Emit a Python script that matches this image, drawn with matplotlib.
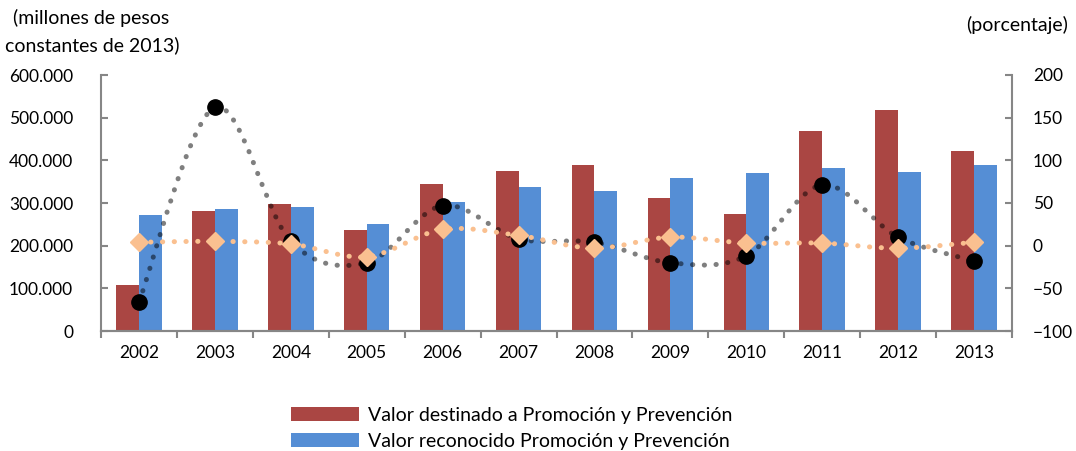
import matplotlib
matplotlib.use("Agg")
import matplotlib.pyplot as plt
from matplotlib.path import Path
from matplotlib.patches import PathPatch, Patch
from matplotlib.ticker import FuncFormatter, FixedLocator
import numpy as np

plt.rcParams['font.family'] = ['Lato', 'DejaVu Sans']

years = ["2002", "2003", "2004", "2005", "2006", "2007", "2008",
         "2009", "2010", "2011", "2012", "2013"]
destinado = [108000, 281000, 298000, 237000, 345000, 375000, 389000,
             312000, 275000, 469000, 517000, 422000]
reconocido = [272000, 286000, 291000, 251000, 302000, 337000, 327000,
              358000, 370000, 381000, 372000, 388000]
crec_destinado = [-66, 162, 5, -20, 47, 8, 4, -20, -12, 71, 10, -18]
crec_reconocido = [4, 5, 2, -13, 19, 12, -3, 10, 3, 3, -3, 4]

RED = "#AA4643"
BLUE = "#558ED5"
ORANGE = "#FAC090"
GRAY = "#868686"

fig = plt.figure(figsize=(10.76, 4.51), dpi=100)
ax = fig.add_axes([101/1076, 1-331/451, (1012-101)/1076, (331-75)/451])
ax2 = ax.twinx()

x = np.arange(len(years))
w = 0.3
ax.bar(x - w/2, destinado, width=w, color=RED, edgecolor="none")
ax.bar(x + w/2, reconocido, width=w, color=BLUE, edgecolor="none")
ax.set_xlim(-0.5, len(years) - 0.5)
ax.set_ylim(0, 600000)
ax.yaxis.set_major_locator(FixedLocator(np.arange(0, 600001, 100000)))
ax.yaxis.set_major_formatter(FuncFormatter(lambda v, p: f"{int(v):,}".replace(",", ".")))
ax.set_xticks(x)
ax.set_xticklabels(years)
ax.set_xticks(np.arange(-0.5, len(years)), minor=True)
ax.tick_params(axis='x', which='major', length=0, pad=10, labelsize=12.5)
ax.tick_params(axis='x', which='minor', length=5, width=1.5, color=GRAY, direction='out')
ax.tick_params(axis='y', length=5, width=1.5, color=GRAY, direction='in', pad=20, labelsize=12.5)

ax2.set_ylim(-100, 200)
ax2.yaxis.set_major_locator(FixedLocator(np.arange(-100, 201, 50)))
ax2.tick_params(axis='y', length=5, width=1.5, color=GRAY, direction='in', pad=15, labelsize=12.5)

for a in (ax, ax2):
    a.spines["top"].set_visible(False)
    for s in ("left", "right", "bottom"):
        a.spines[s].set_color(GRAY)
        a.spines[s].set_linewidth(1.5)
ax.spines["right"].set_visible(False)
ax2.spines["left"].set_visible(False)


def smooth_path(xs, ys):
    pts = np.column_stack([xs, ys]).astype(float)
    n = len(pts)
    verts = [pts[0]]
    codes = [Path.MOVETO]
    for i in range(n - 1):
        p0 = pts[i - 1] if i > 0 else pts[i]
        p1 = pts[i]
        p2 = pts[i + 1]
        p3 = pts[i + 2] if i + 2 < n else pts[i + 1]
        c1 = p1 + (p2 - p0) / 6.0
        c2 = p2 - (p3 - p1) / 6.0
        verts += [c1, c2, p2]
        codes += [Path.CURVE4] * 3
    return Path(verts, codes)


black_line = PathPatch(smooth_path(x, crec_destinado), fill=False, edgecolor="black",
                       alpha=0.5, linewidth=3.6, linestyle=(0, (0.05, 2.3)),
                       capstyle="round", zorder=2)
ax2.add_patch(black_line)
ax2.plot(x, crec_destinado, linestyle="none", marker="o", markersize=11,
         color="black", zorder=3)

orange_line = PathPatch(smooth_path(x, crec_reconocido), fill=False, edgecolor=ORANGE,
                        linewidth=3.6, linestyle=(0, (0.05, 2.3)),
                        capstyle="round", zorder=4)
ax2.add_patch(orange_line)
ax2.plot(x, crec_reconocido, linestyle="none", marker="D", markersize=9.5,
         color=ORANGE, zorder=5)

fig.text(13/1076, 1-18/451, "(millones de pesos", fontsize=14, va="center", ha="left")
fig.text(5/1076, 1-45/451, "constantes de 2013)", fontsize=14, va="center", ha="left")
fig.text(1068/1076, 1-25/451, "(porcentaje)", fontsize=14, va="center", ha="right")

handles = [Patch(facecolor=RED, edgecolor="none"), Patch(facecolor=BLUE, edgecolor="none")]
labels = ["Valor destinado a Promoción y Prevención", "Valor reconocido Promoción y Prevención"]
fig.legend(handles, labels, loc="upper left", bbox_to_anchor=(291/1076, 1-407/451),
           frameon=False, fontsize=14, handlelength=3.5, handleheight=0.7,
           handletextpad=0.45, labelspacing=0.45, borderaxespad=0, borderpad=0)

fig.savefig("out.png", dpi=100)
